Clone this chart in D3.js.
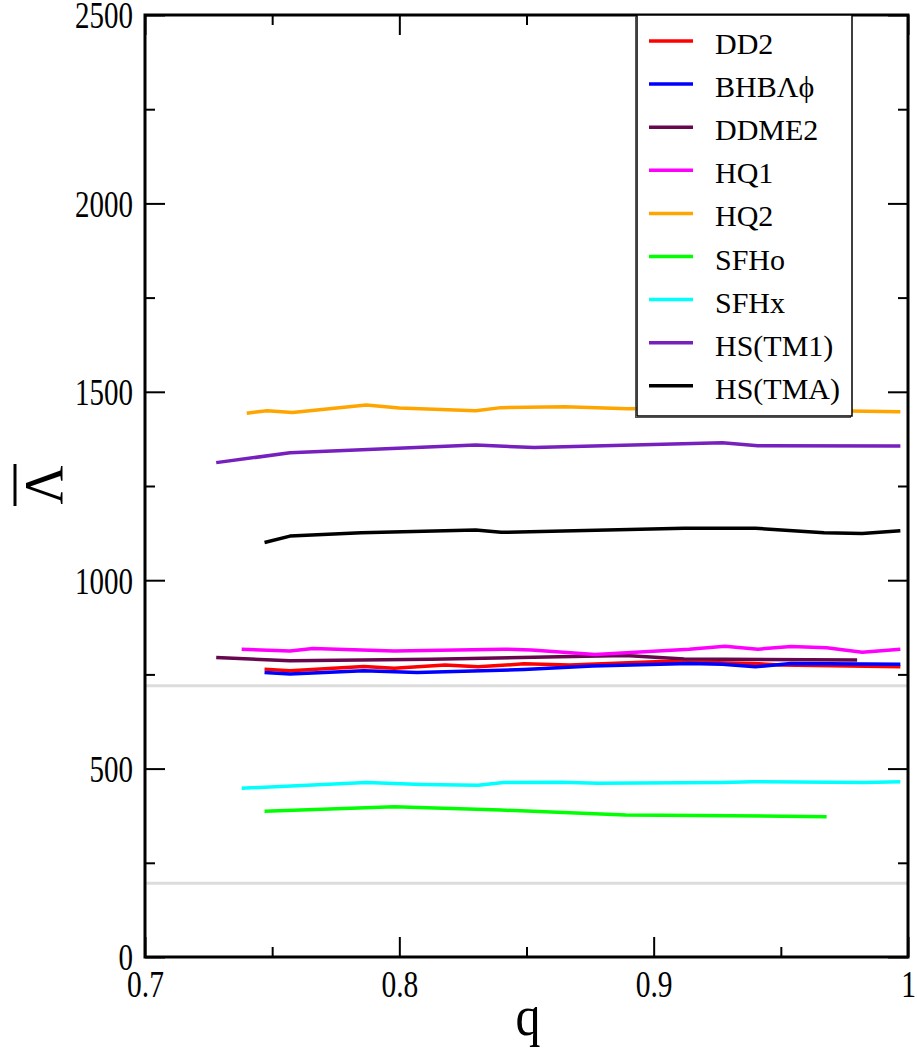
<!DOCTYPE html>
<html><head><meta charset="utf-8">
<script src="https://cdn.jsdelivr.net/npm/d3@7"></script>
<style>html,body{margin:0;padding:0;background:#fff;}svg{display:block;}</style>
</head><body>
<svg id="chart" width="917" height="1061"></svg>
<script>
const seriesNames = ["DD2","BHBΛϕ","DDME2","HQ1","HQ2","SFHo","SFHx","HS(TM1)","HS(TMA)"];
const seriesColors = ["#ff0000","#0000ff","#67074e","#ff00ff","#ffa500","#00ff00","#00ffff","#7620be","#000000"];

const dd2Q = [0.747,0.757,0.786,0.798,0.818,0.831,0.849,0.867,0.903,0.939,0.950,0.997];
const dd2V = [764,760,771,766,775,770,778,775,784,779,775,770];
const bhbQ = [0.747,0.757,0.786,0.807,0.849,0.876,0.914,0.927,0.940,0.954,0.997];
const bhbV = [755,751,760,755,763,772,779,777,770,779,777];
const ddme2Q = [0.728,0.757,0.8125,0.863,0.889,0.912,0.980];
const ddme2V = [795,786,790,797,800,791,788];
const hq1Q = [0.738,0.757,0.766,0.798,0.841,0.852,0.877,0.914,0.928,0.941,0.954,0.968,0.982,0.997];
const hq1V = [817,812,819,812,817,815,803,817,825,817,824,821,809,817];
const hq2Q = [0.740,0.748,0.758,0.787,0.800,0.830,0.840,0.865,0.890,0.910,0.940,0.970,0.997];
const hq2V = [1443,1450,1445,1465,1457,1450,1458,1460,1455,1457,1455,1450,1447];
const sfhoQ = [0.747,0.798,0.840,0.889,0.930,0.968];
const sfhoV = [387,399,390,377,375,372];
const sfhxQ = [0.738,0.787,0.809,0.831,0.841,0.863,0.878,0.927,0.939,0.983,0.997];
const sfhxV = [448,463,458,456,463,464,461,463,465,463,465];
const tm1Q = [0.728,0.757,0.830,0.853,0.927,0.941,0.997];
const tm1V = [1312,1338,1359,1352,1365,1357,1356];
const tmaQ = [0.747,0.757,0.785,0.830,0.840,0.912,0.940,0.967,0.982,0.997];
const tmaV = [1100,1117,1126,1133,1127,1138,1138,1126,1124,1131];

const refLines = [720, 196];
const xTicks = [0.7,0.8,0.9,1.0];
const xMinor = [0.75,0.85,0.95];
const yTicks = [0,500,1000,1500,2000,2500];
const yMinor = [250,750,1250,1750,2250];

const seriesQ = [dd2Q,bhbQ,ddme2Q,hq1Q,hq2Q,sfhoQ,sfhxQ,tm1Q,tmaQ];
const seriesV = [dd2V,bhbV,ddme2V,hq1V,hq2V,sfhoV,sfhxV,tm1V,tmaV];

const L=145, R=908, T=15, B=957;
const svg = d3.select("#chart");
const x = d3.scaleLinear().domain([0.7,1.0]).range([L,R]);
const y = d3.scaleLinear().domain([0,2500]).range([B,T]);
const font = "'Liberation Serif','Times New Roman',serif";

svg.append("defs").append("clipPath").attr("id","clip")
  .append("rect").attr("x",L).attr("y",T).attr("width",R-L).attr("height",B-T);

// reference gray lines
svg.append("g").selectAll("line").data(refLines).join("line")
  .attr("x1",L).attr("x2",R).attr("y1",d=>y(d)).attr("y2",d=>y(d))
  .attr("stroke","#dcdcdc").attr("stroke-width",3);

// data lines
const line = d3.line().x(d=>x(d[0])).y(d=>y(d[1]));
const gLines = svg.append("g").attr("clip-path","url(#clip)");
seriesNames.forEach((n,i)=>{
  const pts = seriesQ[i].map((q,j)=>[q,seriesV[i][j]]);
  gLines.append("path").datum(pts).attr("d",line)
    .attr("fill","none").attr("stroke",seriesColors[i]).attr("stroke-width",3.5)
    .attr("stroke-linejoin","round");
});

// axes
function styleAxis(g){ g.selectAll(".domain").remove(); g.selectAll("line").attr("stroke","#000").attr("stroke-width",2); }
svg.append("g").attr("transform",`translate(${L},0)`).call(d3.axisLeft(y).tickValues(yTicks).tickSize(-20).tickFormat(d3.format("d"))).call(styleAxis)
  .call(g=>g.selectAll("text").attr("x",-12).attr("dy",null).attr("y",0)
    .attr("font-family",font).attr("font-size",29).attr("fill","#000")
    .attr("dominant-baseline","central").attr("transform","scale(1,1.3)"));
svg.append("g").attr("transform",`translate(${L},0)`).call(d3.axisLeft(y).tickValues(yMinor).tickSize(-10).tickFormat("")).call(styleAxis);
svg.append("g").attr("transform",`translate(${R},0)`).call(d3.axisRight(y).tickValues(yTicks).tickSize(-20).tickFormat("")).call(styleAxis);
svg.append("g").attr("transform",`translate(${R},0)`).call(d3.axisRight(y).tickValues(yMinor).tickSize(-10).tickFormat("")).call(styleAxis);
svg.append("g").attr("transform",`translate(0,${B})`).call(d3.axisBottom(x).tickValues(xTicks).tickSize(-20).tickFormat(d=>d===1?"1":d3.format(".1f")(d))).call(styleAxis)
  .call(g=>g.selectAll("text").attr("y",31.5).attr("dy",null)
    .attr("font-family",font).attr("font-size",29.5).attr("fill","#000")
    .attr("transform","scale(1,1.27)"));
svg.append("g").attr("transform",`translate(0,${B})`).call(d3.axisBottom(x).tickValues(xMinor).tickSize(-10).tickFormat("")).call(styleAxis);
svg.append("g").attr("transform",`translate(0,${T})`).call(d3.axisTop(x).tickValues(xTicks).tickSize(-20).tickFormat("")).call(styleAxis);
svg.append("g").attr("transform",`translate(0,${T})`).call(d3.axisTop(x).tickValues(xMinor).tickSize(-10).tickFormat("")).call(styleAxis);

// frame
svg.append("rect").attr("x",L).attr("y",T).attr("width",R-L).attr("height",B-T)
  .attr("fill","none").attr("stroke","#000").attr("stroke-width",3);

// axis titles
svg.append("text").attr("x",528).attr("y",1035/1.15).attr("transform","scale(1,1.15)")
  .attr("text-anchor","middle").attr("font-family",font).attr("font-size",50).text("q");
const ylab = svg.append("g").attr("transform","translate(44,485) rotate(-90)");
ylab.append("text").attr("x",0).attr("y",18).attr("text-anchor","middle")
  .attr("font-family",font).attr("font-size",54).text("Λ");
ylab.append("line").attr("x1",-21).attr("x2",21).attr("y1",-29).attr("y2",-29)
  .attr("stroke","#000").attr("stroke-width",3);

// legend
const lg = svg.append("g");
lg.append("rect").attr("x",635.5).attr("y",16.5).attr("width",215).attr("height",401)
  .attr("fill","none").attr("stroke","#555").attr("stroke-width",1);
lg.append("rect").attr("x",637).attr("y",15).attr("width",215).attr("height",401)
  .attr("fill","#fff").attr("stroke","#000").attr("stroke-width",1.5);
seriesNames.forEach((n,i)=>{
  const cy = 41 + i*43.1;
  lg.append("line").attr("x1",649).attr("x2",693).attr("y1",cy).attr("y2",cy)
    .attr("stroke",seriesColors[i]).attr("stroke-width",3.5);
  lg.append("text").attr("x",715).attr("y",cy+13).attr("font-family",font)
    .attr("font-size",30).attr("fill","#000").text(n);
});
</script>
</body></html>
